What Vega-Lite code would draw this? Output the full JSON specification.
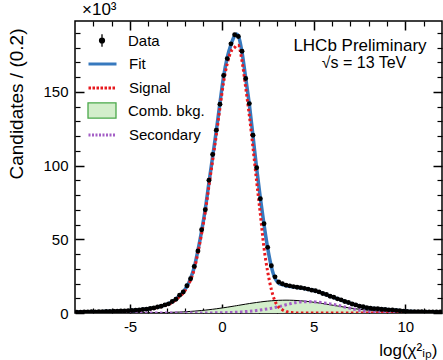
{
  "$schema": "https://vega.github.io/schema/vega-lite/v6.json",
  "width": 367,
  "height": 292,
  "autosize": {"type": "none"},
  "padding": {"left": 75, "top": 21, "right": 1, "bottom": 47},
  "title": {"text": "×10³", "anchor": "start", "frame": "group", "fontSize": 17, "fontWeight": "normal", "font": "Liberation Sans", "color": "black", "offset": 1, "dx": 7},
  "config": {
    "view": {"stroke": "black", "strokeWidth": 1.5},
    "font": "Liberation Sans",
    "axis": {"labelFont": "Liberation Sans", "titleFont": "Liberation Sans", "labelColor": "black", "titleColor": "black", "tickColor": "black", "grid": false, "domain": false, "labelFontSize": 15, "titleFontWeight": "normal"},
    "legend": {"orient": "none", "title": null, "padding": 0, "symbolSize": 196, "symbolOpacity": 1, "labelFontSize": 15, "labelFont": "Liberation Sans", "labelColor": "black", "labelOffset": 18, "legendX": 19}
  },
  "data": {"values": [
    {"x": -8.0, "fit": 0.58, "sig": 0.53, "comb": 0, "sec": 0, "data": null},
    {"x": -7.9, "fit": 0.6, "sig": 0.55, "comb": 0, "sec": 0, "data": 0.62},
    {"x": -7.7, "fit": 0.65, "sig": 0.6, "comb": 0, "sec": 0, "data": 0.6},
    {"x": -7.5, "fit": 0.7, "sig": 0.65, "comb": 0, "sec": 0, "data": 0.74},
    {"x": -7.3, "fit": 0.72, "sig": 0.68, "comb": 0, "sec": 0, "data": 0.7},
    {"x": -7.1, "fit": 0.77, "sig": 0.73, "comb": 0, "sec": 0, "data": 0.8},
    {"x": -6.9, "fit": 0.82, "sig": 0.78, "comb": 0, "sec": 0, "data": 0.79},
    {"x": -6.7, "fit": 0.88, "sig": 0.84, "comb": 0, "sec": 0, "data": 0.92},
    {"x": -6.5, "fit": 0.93, "sig": 0.9, "comb": 0, "sec": 0, "data": 0.9},
    {"x": -6.3, "fit": 1.0, "sig": 0.97, "comb": 0.01, "sec": 0, "data": 1.05},
    {"x": -6.1, "fit": 1.07, "sig": 1.04, "comb": 0.01, "sec": 0, "data": 1.02},
    {"x": -5.9, "fit": 1.13, "sig": 1.1, "comb": 0.01, "sec": 0, "data": 1.18},
    {"x": -5.7, "fit": 1.22, "sig": 1.2, "comb": 0.01, "sec": 0, "data": 1.2},
    {"x": -5.5, "fit": 1.32, "sig": 1.3, "comb": 0.02, "sec": 0, "data": 1.36},
    {"x": -5.3, "fit": 1.42, "sig": 1.4, "comb": 0.02, "sec": 0, "data": 1.4},
    {"x": -5.1, "fit": 1.54, "sig": 1.5, "comb": 0.03, "sec": 0, "data": 1.6},
    {"x": -4.9, "fit": 1.68, "sig": 1.64, "comb": 0.04, "sec": 0, "data": 1.66},
    {"x": -4.7, "fit": 1.86, "sig": 1.81, "comb": 0.05, "sec": 0, "data": 1.92},
    {"x": -4.5, "fit": 2.1, "sig": 2.03, "comb": 0.06, "sec": 0, "data": 2.05},
    {"x": -4.3, "fit": 2.35, "sig": 2.27, "comb": 0.08, "sec": 0, "data": 2.42},
    {"x": -4.1, "fit": 2.65, "sig": 2.55, "comb": 0.1, "sec": 0, "data": 2.6},
    {"x": -3.9, "fit": 3.0, "sig": 2.87, "comb": 0.13, "sec": 0, "data": 3.1},
    {"x": -3.7, "fit": 3.45, "sig": 3.29, "comb": 0.16, "sec": 0, "data": 3.4},
    {"x": -3.5, "fit": 4.0, "sig": 3.8, "comb": 0.2, "sec": 0, "data": 4.1},
    {"x": -3.3, "fit": 4.6, "sig": 4.35, "comb": 0.25, "sec": 0, "data": 4.55},
    {"x": -3.1, "fit": 5.35, "sig": 5.04, "comb": 0.31, "sec": 0, "data": 5.5},
    {"x": -2.9, "fit": 6.3, "sig": 5.93, "comb": 0.37, "sec": 0, "data": 6.2},
    {"x": -2.7, "fit": 7.6, "sig": 7.15, "comb": 0.45, "sec": 0, "data": 7.8},
    {"x": -2.5, "fit": 9.5, "sig": 8.95, "comb": 0.55, "sec": 0, "data": 9.3},
    {"x": -2.3, "fit": 11.8, "sig": 11.15, "comb": 0.65, "sec": 0, "data": 12.1},
    {"x": -2.1, "fit": 14.4, "sig": 13.6, "comb": 0.78, "sec": 0, "data": 14.2},
    {"x": -1.9, "fit": 18.0, "sig": 17.1, "comb": 0.92, "sec": 0, "data": 18.5},
    {"x": -1.7, "fit": 23.5, "sig": 22.4, "comb": 1.09, "sec": 0, "data": 23.2},
    {"x": -1.5, "fit": 31, "sig": 29.7, "comb": 1.27, "sec": 0, "data": 31.6},
    {"x": -1.3, "fit": 42.5, "sig": 41, "comb": 1.48, "sec": 0, "data": 42},
    {"x": -1.1, "fit": 55.5, "sig": 53.8, "comb": 1.71, "sec": 0, "data": 56.5},
    {"x": -0.9, "fit": 70.5, "sig": 68.5, "comb": 1.96, "sec": 0.02, "data": 70},
    {"x": -0.7, "fit": 88.5, "sig": 86.2, "comb": 2.24, "sec": 0.04, "data": 90},
    {"x": -0.5, "fit": 106, "sig": 103.4, "comb": 2.54, "sec": 0.07, "data": 107.5},
    {"x": -0.3, "fit": 123.5, "sig": 120.5, "comb": 2.86, "sec": 0.1, "data": 124},
    {"x": -0.1, "fit": 142.5, "sig": 139.1, "comb": 3.2, "sec": 0.15, "data": 141.5},
    {"x": 0.1, "fit": 160.5, "sig": 156.7, "comb": 3.57, "sec": 0.2, "data": 161},
    {"x": 0.3, "fit": 173.5, "sig": 169.3, "comb": 3.95, "sec": 0.27, "data": 172.5},
    {"x": 0.5, "fit": 182, "sig": 177.3, "comb": 4.35, "sec": 0.35, "data": 182.5},
    {"x": 0.7, "fit": 188, "sig": 180, "comb": 4.76, "sec": 0.45, "data": 188.7},
    {"x": 0.8, "fit": 189.2, "sig": 181.5, "comb": 4.96, "sec": 0.52, "data": null},
    {"x": 0.9, "fit": 188, "sig": 181.5, "comb": 5.17, "sec": 0.6, "data": 187.5},
    {"x": 1.1, "fit": 177, "sig": 171, "comb": 5.59, "sec": 0.75, "data": 177.5},
    {"x": 1.3, "fit": 159.5, "sig": 153, "comb": 6.0, "sec": 0.95, "data": 159},
    {"x": 1.5, "fit": 141.5, "sig": 134, "comb": 6.4, "sec": 1.2, "data": 142},
    {"x": 1.7, "fit": 120, "sig": 112, "comb": 6.78, "sec": 1.45, "data": 120.5},
    {"x": 1.9, "fit": 98, "sig": 89, "comb": 7.14, "sec": 1.75, "data": 98.5},
    {"x": 2.1, "fit": 78, "sig": 67, "comb": 7.48, "sec": 2.1, "data": 77.5},
    {"x": 2.3, "fit": 60, "sig": 44, "comb": 7.79, "sec": 2.45, "data": 60.5},
    {"x": 2.5, "fit": 44, "sig": 28, "comb": 8.06, "sec": 2.8, "data": 44.5},
    {"x": 2.7, "fit": 31.5, "sig": 16, "comb": 8.28, "sec": 3.2, "data": 32},
    {"x": 2.9, "fit": 23.5, "sig": 8, "comb": 8.46, "sec": 3.7, "data": 24.5},
    {"x": 3.1, "fit": 20.3, "sig": 4, "comb": 8.6, "sec": 4.3, "data": 21},
    {"x": 3.3, "fit": 19.2, "sig": 2.2, "comb": 8.67, "sec": 4.9, "data": 19.8},
    {"x": 3.5, "fit": 18.5, "sig": 1.0, "comb": 8.7, "sec": 5.6, "data": 18.9},
    {"x": 3.7, "fit": 18.1, "sig": 0.4, "comb": 8.67, "sec": 6.2, "data": 18.4},
    {"x": 3.9, "fit": 17.7, "sig": 0.15, "comb": 8.6, "sec": 6.8, "data": 17.9},
    {"x": 4.1, "fit": 17.4, "sig": 0.05, "comb": 8.46, "sec": 7.2, "data": 17.5},
    {"x": 4.3, "fit": 17.0, "sig": 0.02, "comb": 8.28, "sec": 7.5, "data": 17.2},
    {"x": 4.5, "fit": 16.6, "sig": 0, "comb": 8.06, "sec": 7.65, "data": 16.7},
    {"x": 4.7, "fit": 16.1, "sig": 0, "comb": 7.79, "sec": 7.7, "data": 16.2},
    {"x": 4.9, "fit": 15.6, "sig": 0, "comb": 7.48, "sec": 7.65, "data": 15.5},
    {"x": 5.1, "fit": 15.0, "sig": 0, "comb": 7.14, "sec": 7.5, "data": 15.1},
    {"x": 5.3, "fit": 14.2, "sig": 0, "comb": 6.78, "sec": 7.25, "data": 14.3},
    {"x": 5.5, "fit": 13.3, "sig": 0, "comb": 6.4, "sec": 6.95, "data": 13.2},
    {"x": 5.7, "fit": 12.4, "sig": 0, "comb": 6.0, "sec": 6.6, "data": 12.5},
    {"x": 5.9, "fit": 11.5, "sig": 0, "comb": 5.59, "sec": 6.2, "data": 11.4},
    {"x": 6.1, "fit": 10.6, "sig": 0, "comb": 5.17, "sec": 5.75, "data": 10.7},
    {"x": 6.3, "fit": 9.7, "sig": 0, "comb": 4.76, "sec": 5.25, "data": 9.6},
    {"x": 6.5, "fit": 8.8, "sig": 0, "comb": 4.35, "sec": 4.7, "data": 8.9},
    {"x": 6.7, "fit": 7.9, "sig": 0, "comb": 3.95, "sec": 4.1, "data": 7.8},
    {"x": 6.9, "fit": 7.0, "sig": 0, "comb": 3.57, "sec": 3.5, "data": 7.1},
    {"x": 7.1, "fit": 6.2, "sig": 0, "comb": 3.2, "sec": 2.9, "data": 6.1},
    {"x": 7.3, "fit": 5.4, "sig": 0, "comb": 2.86, "sec": 2.3, "data": 5.5},
    {"x": 7.5, "fit": 4.7, "sig": 0, "comb": 2.54, "sec": 1.8, "data": 4.6},
    {"x": 7.7, "fit": 4.1, "sig": 0, "comb": 2.24, "sec": 1.35, "data": 4.2},
    {"x": 7.9, "fit": 3.6, "sig": 0, "comb": 1.96, "sec": 0.95, "data": 3.6},
    {"x": 8.1, "fit": 3.25, "sig": 0, "comb": 1.71, "sec": 0.65, "data": 3.3},
    {"x": 8.3, "fit": 3.0, "sig": 0, "comb": 1.48, "sec": 0.42, "data": 2.95},
    {"x": 8.5, "fit": 2.8, "sig": 0, "comb": 1.27, "sec": 0.26, "data": 2.85},
    {"x": 8.7, "fit": 2.6, "sig": 0, "comb": 1.09, "sec": 0.15, "data": 2.55},
    {"x": 8.9, "fit": 2.4, "sig": 0, "comb": 0.92, "sec": 0.08, "data": 2.45},
    {"x": 9.1, "fit": 2.2, "sig": 0, "comb": 0.78, "sec": 0.04, "data": 2.15},
    {"x": 9.3, "fit": 2.0, "sig": 0, "comb": 0.65, "sec": 0.02, "data": 2.05},
    {"x": 9.5, "fit": 1.8, "sig": 0, "comb": 0.55, "sec": 0, "data": 1.75},
    {"x": 9.7, "fit": 1.55, "sig": 0, "comb": 0.45, "sec": 0, "data": 1.6},
    {"x": 9.9, "fit": 1.3, "sig": 0, "comb": 0.37, "sec": 0, "data": 1.3},
    {"x": 10.1, "fit": 1.1, "sig": 0, "comb": 0.31, "sec": 0, "data": 1.12},
    {"x": 10.3, "fit": 0.98, "sig": 0, "comb": 0.25, "sec": 0, "data": 0.95},
    {"x": 10.5, "fit": 0.9, "sig": 0, "comb": 0.2, "sec": 0, "data": 0.92},
    {"x": 10.7, "fit": 0.84, "sig": 0, "comb": 0.16, "sec": 0, "data": 0.82},
    {"x": 10.9, "fit": 0.8, "sig": 0, "comb": 0.13, "sec": 0, "data": 0.81},
    {"x": 11.1, "fit": 0.77, "sig": 0, "comb": 0.1, "sec": 0, "data": 0.76},
    {"x": 11.3, "fit": 0.74, "sig": 0, "comb": 0.08, "sec": 0, "data": 0.75},
    {"x": 11.5, "fit": 0.72, "sig": 0, "comb": 0.06, "sec": 0, "data": 0.7},
    {"x": 11.7, "fit": 0.7, "sig": 0, "comb": 0.05, "sec": 0, "data": 0.71},
    {"x": 11.9, "fit": 0.68, "sig": 0, "comb": 0.04, "sec": 0, "data": 0.68},
    {"x": 12.0, "fit": 0.67, "sig": 0, "comb": 0.03, "sec": 0, "data": null}
  ]},
  "resolve": {"axis": {"x": "independent", "y": "independent"}, "scale": {"color": "independent"}, "legend": {"color": "independent"}},
  "layer": [
    {
      "mark": {"type": "area", "interpolate": "monotone", "fillOpacity": 1, "clip": true},
      "encoding": {
        "x": {"field": "x", "type": "quantitative", "scale": {"domain": [-8, 12], "nice": false, "zero": false},
          "axis": {"orient": "bottom", "values": [-5, 0, 5, 10], "tickSize": -9, "tickWidth": 1.5, "labelPadding": 15, "labelExpr": "datum.value < 0 ? '-' + abs(datum.value) : '' + datum.value",
            "title": "log(χ²ᵢₚ)", "titleFontSize": 17, "titleAnchor": "end", "titleAlign": "right", "titleBaseline": "alphabetic", "titleX": 362, "titleY": 42}},
        "y": {"field": "comb", "type": "quantitative", "scale": {"domain": [0, 198], "nice": false},
          "axis": {"orient": "left", "values": [0, 50, 100, 150], "tickSize": -9, "tickWidth": 1.5, "labelPadding": 16,
            "title": "Candidates / (0.2)", "titleFontSize": 19, "titleAngle": 270, "titleAlign": "right", "titleBaseline": "middle", "titleX": -59, "titleY": 7}},
        "color": {"datum": "Comb. bkg.", "type": "nominal", "scale": {"range": ["#d3eecb"]},
          "legend": {"legendY": 81.5, "symbolType": "M-2,-1.1H2V1.1H-2Z", "symbolStrokeColor": "#4aa84a", "symbolStrokeWidth": 1.3}}
      }
    },
    {
      "mark": {"type": "line", "interpolate": "monotone", "color": "black", "strokeWidth": 1, "clip": true},
      "encoding": {
        "x": {"field": "x", "type": "quantitative",
          "axis": {"orient": "bottom", "values": [-7, -6, -4, -3, -2, -1, 1, 2, 3, 4, 6, 7, 8, 9, 11], "tickSize": -5, "tickWidth": 1.2, "labels": false, "title": null}},
        "y": {"field": "comb", "type": "quantitative",
          "axis": {"orient": "left", "values": [10, 20, 30, 40, 60, 70, 80, 90, 110, 120, 130, 140, 160, 170, 180, 190], "tickSize": -5, "tickWidth": 1.2, "labels": false, "title": null}}
      }
    },
    {
      "mark": {"type": "line", "interpolate": "monotone", "strokeWidth": 3, "strokeDash": [2.5, 2.5], "clip": true},
      "encoding": {
        "x": {"field": "x", "type": "quantitative",
          "axis": {"orient": "top", "values": [-5, 0, 5, 10], "tickSize": -9, "tickWidth": 1.5, "labels": false, "title": null}},
        "y": {"field": "sec", "type": "quantitative",
          "axis": {"orient": "right", "values": [0, 50, 100, 150], "tickSize": -9, "tickWidth": 1.5, "labels": false, "title": null}},
        "color": {"datum": "Secondary", "type": "nominal", "scale": {"range": ["#a45fc6"]},
          "legend": {"legendY": 105.5, "symbolType": "M-2,0H2", "symbolStrokeWidth": 3, "symbolDash": [2, 1.5]}}
      }
    },
    {
      "mark": {"type": "line", "interpolate": "monotone", "strokeWidth": 3.5, "clip": true},
      "encoding": {
        "x": {"field": "x", "type": "quantitative",
          "axis": {"orient": "top", "values": [-7, -6, -4, -3, -2, -1, 1, 2, 3, 4, 6, 7, 8, 9, 11], "tickSize": -5, "tickWidth": 1.2, "labels": false, "title": null}},
        "y": {"field": "fit", "type": "quantitative",
          "axis": {"orient": "right", "values": [10, 20, 30, 40, 60, 70, 80, 90, 110, 120, 130, 140, 160, 170, 180, 190], "tickSize": -5, "tickWidth": 1.2, "labels": false, "title": null}},
        "color": {"datum": "Fit", "type": "nominal", "scale": {"range": ["#3779be"]},
          "legend": {"legendY": 34.5, "symbolType": "M-2,0H2", "symbolStrokeWidth": 3}}
      }
    },
    {
      "mark": {"type": "line", "interpolate": "monotone", "strokeWidth": 3, "strokeDash": [2.5, 2.5], "clip": true},
      "encoding": {
        "x": {"field": "x", "type": "quantitative", "axis": null},
        "y": {"field": "sig", "type": "quantitative", "axis": null},
        "color": {"datum": "Signal", "type": "nominal", "scale": {"range": ["#e8191e"]},
          "legend": {"legendY": 58.5, "symbolType": "M-2,0H2", "symbolStrokeWidth": 3, "symbolDash": [2.5, 1.5]}}
      }
    },
    {
      "mark": {"type": "circle", "size": 24, "opacity": 1, "clip": true},
      "encoding": {
        "x": {"field": "x", "type": "quantitative", "axis": null},
        "y": {"field": "data", "type": "quantitative", "axis": null},
        "color": {"datum": "Data", "type": "nominal", "scale": {"range": ["black"]},
          "legend": {"legendY": 11.5, "symbolType": "M0,-0.9V0.9M-0.35,0A0.35,0.35,0,1,0,0.35,0A0.35,0.35,0,1,0,-0.35,0Z", "symbolStrokeColor": "black", "symbolStrokeWidth": 1.3}}
      }
    },
    {
      "data": {"values": [{"label": "LHCb Preliminary"}]},
      "mark": {"type": "text", "fontSize": 17, "align": "center", "baseline": "alphabetic", "color": "black", "font": "Liberation Sans"},
      "encoding": {
        "x": {"datum": 7.53, "type": "quantitative", "axis": null},
        "y": {"datum": 177.8, "type": "quantitative", "axis": null},
        "text": {"field": "label"}
      }
    },
    {
      "data": {"values": [{"label": "√s = 13 TeV"}]},
      "mark": {"type": "text", "fontSize": 16, "align": "center", "baseline": "alphabetic", "color": "black", "font": "Liberation Sans"},
      "encoding": {
        "x": {"datum": 7.75, "type": "quantitative", "axis": null},
        "y": {"datum": 165.9, "type": "quantitative", "axis": null},
        "text": {"field": "label"}
      }
    }
  ]
}
